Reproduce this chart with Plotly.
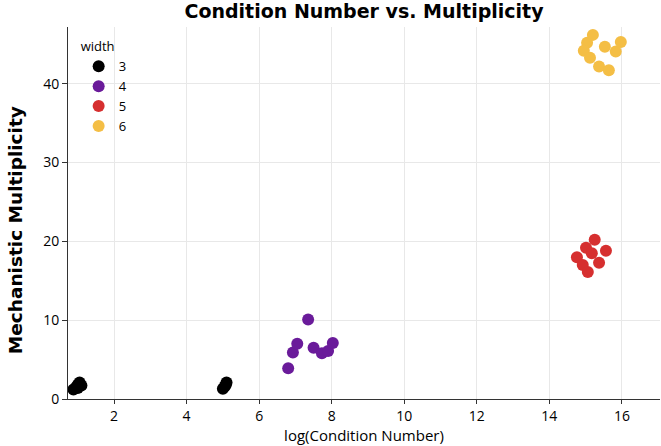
import plotly.graph_objects as go

widths = ["3", "4", "5", "6"]
colors = ["#000000", "#6a1b9a", "#d62f2f", "#f4be45"]

x_w3 = [0.88, 0.95, 1.0, 1.05, 1.1, 1.0, 5.0, 5.05, 5.1, 5.08]
y_w3 = [1.2, 1.5, 1.8, 2.1, 1.7, 1.4, 1.3, 1.6, 2.1, 1.8]

x_w4 = [6.8, 6.93, 7.05, 7.35, 7.5, 7.73, 7.9, 8.03]
y_w4 = [3.9, 5.9, 7.0, 10.1, 6.5, 5.8, 6.1, 7.1]

x_w5 = [14.76, 14.92, 15.06, 15.01, 15.17, 15.25, 15.37, 15.56]
y_w5 = [18.0, 17.0, 16.1, 19.2, 18.5, 20.2, 17.3, 18.8]

x_w6 = [15.2, 15.04, 14.95, 15.12, 15.37, 15.64, 15.53, 15.83, 15.97]
y_w6 = [46.2, 45.2, 44.2, 43.3, 42.2, 41.7, 44.7, 44.1, 45.3]

xs = [x_w3, x_w4, x_w5, x_w6]
ys = [y_w3, y_w4, y_w5, y_w6]

fig = go.Figure()
for w, c, x, y in zip(widths, colors, xs, ys):
    fig.add_trace(go.Scatter(x=x, y=y, mode="markers", name=w,
                             marker=dict(color=c, size=12, line=dict(width=0))))

fig.update_layout(
    width=661, height=446,
    margin=dict(l=68, r=1, t=27, b=47),
    paper_bgcolor="white", plot_bgcolor="white",
    title=dict(text="<b>Condition Number vs. Multiplicity</b>", x=0.5, xref="paper", xanchor="center",
               y=0.99, yanchor="top",
               font=dict(family="DejaVu Sans", size=19, color="black")),
    font=dict(family="Open Sans", size=14, color="black"),
    legend=dict(title=dict(text="width", font=dict(family="Open Sans", size=13)),
                x=0.018, y=0.98, xanchor="left", yanchor="top",
                bgcolor="rgba(255,255,255,0)", font=dict(size=13)),
    xaxis=dict(range=[0.73, 17.05], tickvals=[2, 4, 6, 8, 10, 12, 14, 16],
               showgrid=True, gridcolor="#e8e8e8", zeroline=False,
               showline=True, linecolor="#333333", linewidth=1,
               ticks="outside", ticklen=4, tickcolor="#333333",
               tickfont=dict(size=14),
               title=dict(text="log(Condition Number)", font=dict(family="Open Sans", size=15), standoff=6)),
    yaxis=dict(range=[0, 47.2], tickvals=[0, 10, 20, 30, 40],
               showgrid=True, gridcolor="#e8e8e8", zeroline=False,
               showline=True, linecolor="#333333", linewidth=1,
               ticks="outside", ticklen=5, tickcolor="#333333",
               tickfont=dict(size=14)),
    annotations=[dict(text="<b>Mechanistic Multiplicity</b>", textangle=-90,
                      xref="paper", yref="paper", x=-0.0895, y=0.454,
                      xanchor="center", yanchor="middle", showarrow=False,
                      font=dict(family="DejaVu Sans", size=18.5, color="black"))],
)

fig.write_html("out.html", config={"displayModeBar": False},
               post_script="document.body.style.margin='0';document.body.style.overflow='hidden';")
